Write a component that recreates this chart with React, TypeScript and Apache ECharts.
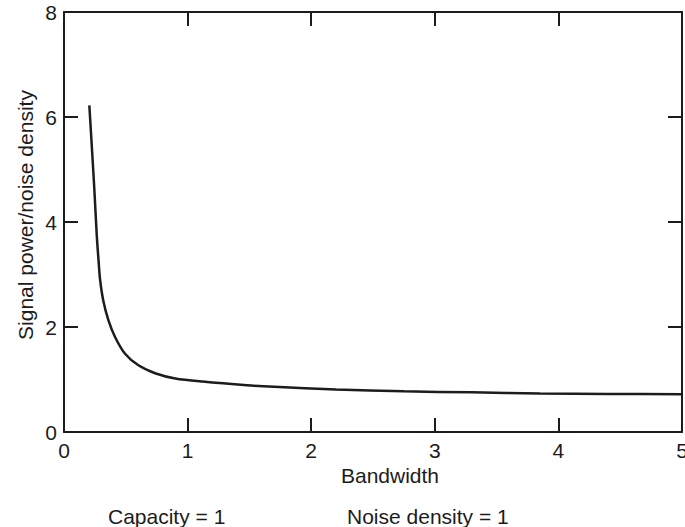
import React, { useEffect, useRef } from "react";
import * as echarts from "echarts";

const bandwidth = [0.205, 0.227, 0.246, 0.265, 0.28, 0.292, 0.318, 0.359, 0.413, 0.494, 0.602, 0.737, 0.9, 1.12, 1.48, 1.7, 2.2, 2.75, 3.3, 3.85, 4.4, 5.0];
const ratio = [6.22, 5.36, 4.6, 3.75, 3.25, 2.9, 2.5, 2.13, 1.81, 1.49, 1.27, 1.12, 1.02, 0.96, 0.89, 0.86, 0.81, 0.775, 0.755, 0.735, 0.725, 0.72];
const xTicks = [0, 1, 2, 3, 4, 5];
const yTicks = [0, 2, 4, 6, 8];
const xTitle = "Bandwidth";
const yTitle = "Signal power/noise density";
const notes = ["Capacity = 1", "Noise density = 1"];

const INK = "#1c1c1c";
const FONT = "'Liberation Sans', Arial, sans-serif";
const FS = 21;

export default function App() {
  const ref = useRef<HTMLDivElement>(null);
  useEffect(() => {
    if (!ref.current) return;
    const chart = echarts.init(ref.current, undefined, { renderer: "svg" });
    const axisLine = { show: true, onZero: false, lineStyle: { color: INK, width: 2 } };
    const tick = { show: true, inside: true, length: 14, lineStyle: { color: INK, width: 2 } };
    const label = { fontSize: FS, color: INK, fontFamily: FONT };
    const textStyle = { fontSize: FS, fill: INK, fontFamily: FONT };
    chart.setOption({
      animation: false,
      backgroundColor: "#ffffff",
      grid: { left: 64, right: 3, top: 12, bottom: 95, containLabel: false, outerBoundsMode: "none" },
      xAxis: [
        {
          type: "value",
          min: xTicks[0],
          max: xTicks[xTicks.length - 1],
          interval: 1,
          position: "bottom",
          axisLine,
          axisTick: tick,
          axisLabel: { ...label, margin: 8 },
          splitLine: { show: false },
        },
        {
          type: "value",
          min: xTicks[0],
          max: xTicks[xTicks.length - 1],
          interval: 1,
          position: "top",
          axisLine,
          axisTick: tick,
          axisLabel: { show: false },
          splitLine: { show: false },
        },
      ],
      yAxis: [
        {
          type: "value",
          min: yTicks[0],
          max: yTicks[yTicks.length - 1],
          interval: 2,
          position: "left",
          axisLine,
          axisTick: tick,
          axisLabel: { ...label, margin: 7 },
          splitLine: { show: false },
        },
        {
          type: "value",
          min: yTicks[0],
          max: yTicks[yTicks.length - 1],
          interval: 2,
          position: "right",
          axisLine,
          axisTick: tick,
          axisLabel: { show: false },
          splitLine: { show: false },
        },
      ],
      graphic: [
        {
          type: "text",
          x: 25,
          y: 215,
          rotation: Math.PI / 2,
          style: { ...textStyle, text: yTitle, align: "center", verticalAlign: "middle" },
        },
        {
          type: "text",
          x: 390,
          y: 475,
          style: { ...textStyle, text: xTitle, align: "center", verticalAlign: "middle" },
        },
        {
          type: "text",
          x: 108,
          y: 516,
          style: { ...textStyle, text: notes[0], align: "left", verticalAlign: "middle" },
        },
        {
          type: "text",
          x: 347,
          y: 516,
          style: { ...textStyle, text: notes[1], align: "left", verticalAlign: "middle" },
        },
      ],
      series: [
        {
          type: "line",
          xAxisIndex: 0,
          yAxisIndex: 0,
          data: bandwidth.map((b, i) => [b, ratio[i]]),
          smooth: 0.3,
          symbol: "none",
          lineStyle: { color: INK, width: 2.5 },
        },
      ],
    });
    return () => chart.dispose();
  }, []);
  return <div ref={ref} style={{ position: "fixed", left: 0, top: 0, width: 685, height: 527 }} />;
}
